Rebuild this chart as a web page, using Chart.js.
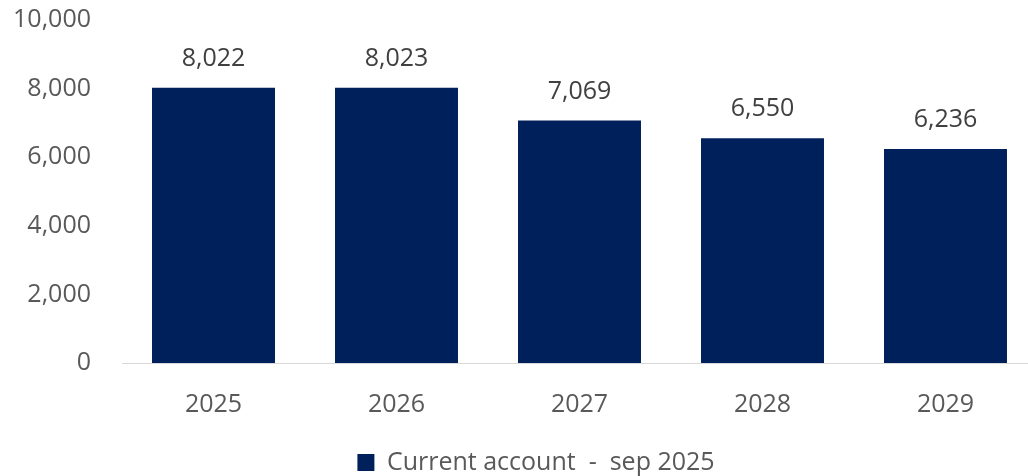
<!DOCTYPE html>
<html>
<head>
<meta charset="utf-8">
<script src="https://cdn.jsdelivr.net/npm/chart.js@4"></script>
<style>
    html, body { margin: 0; padding: 0; background: #fff; overflow: hidden; }
    #wrap { width: 1072px; height: 476px; }
</style>
</head>
<body>
<div id="wrap"><canvas id="chart"></canvas></div>
<script>
// chart data
const years = ["2025", "2026", "2027", "2028", "2029"];
const currentAccount = [8022, 8023, 7069, 6550, 6236];
const seriesName = "Current account  -  sep 2025";
const yTicks = [0, 2000, 4000, 6000, 8000, 10000];

const fontFamily = "'Open Sans', sans-serif";
const fmt = v => v.toLocaleString("en-US");

// draws the value over each bar
const barLabels = {
    id: "barLabels",
    afterDatasetsDraw(chart) {
        const ctx = chart.ctx;
        ctx.save();
        ctx.font = "25px " + fontFamily;
        ctx.fillStyle = "#404040";
        ctx.textAlign = "center";
        ctx.textBaseline = "middle";
        chart.getDatasetMeta(0).data.forEach((bar, i) => {
            ctx.fillText(fmt(currentAccount[i]), bar.x, bar.y - 29);
        });
        ctx.restore();
    }
};

function main() {
    let ctx = document.getElementById("chart");
    new Chart(ctx, {
        type: "bar",
        data: {
            labels: years,
            datasets: [
                {
                    label: seriesName,
                    data: currentAccount,
                    backgroundColor: "#00205B",
                    categoryPercentage: 1,
                    barPercentage: 0.672
                }
            ]
        },
        options: {
            responsive: true,
            maintainAspectRatio: false,
            animation: false,
            layout: { padding: { top: 20, right: 0, left: 0, bottom: -9 } },
            scales: {
                x: {
                    // keep the plot ending at 1037 while the legend stays centred on the canvas
                    afterFit: scale => {
                        scale.height = 87;
                        scale.paddingLeft = 0;
                        scale.paddingRight = 35;
                    },
                    grid: { display: false },
                    border: { display: true, color: "#d9d9d9", width: 1 },
                    ticks: { color: "#595959", font: { family: fontFamily, size: 25 }, padding: 19 }
                },
                y: {
                    min: 0,
                    max: 10000,
                    afterBuildTicks: scale => {
                        scale.ticks = yTicks.map(v => ({ value: v }));
                    },
                    afterFit: scale => {
                        scale.width = 122;
                        scale.paddingTop = 0;
                        scale.paddingBottom = 0;
                    },
                    grid: { display: false },
                    border: { display: false },
                    ticks: {
                        color: "#595959",
                        font: { family: fontFamily, size: 25 },
                        padding: 23,
                        callback: v => fmt(v)
                    }
                }
            },
            plugins: {
                legend: {
                    position: "bottom",
                    labels: {
                        color: "#595959",
                        font: { family: fontFamily, size: 25 },
                        boxWidth: 17,
                        boxHeight: 17,
                        padding: 0
                    }
                },
                tooltip: { enabled: false }
            }
        },
        plugins: [barLabels]
    });
}

document.addEventListener("DOMContentLoaded", main);
</script>
</body>
</html>
